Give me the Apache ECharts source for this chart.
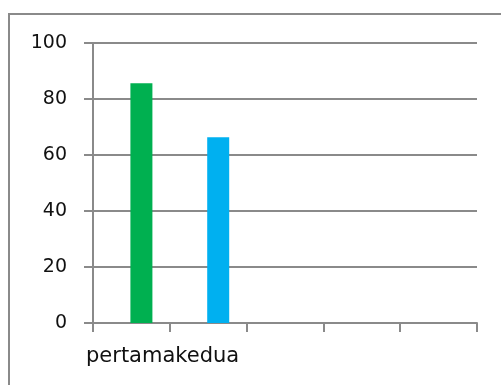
<!DOCTYPE html>
<html>
<head>
<meta charset="utf-8">
<script src="https://cdn.jsdelivr.net/npm/echarts@6/dist/echarts.min.js"></script>
<style>
  html, body { margin: 0; padding: 0; background: #fff; }
  #chart { width: 501px; height: 385px; }
</style>
</head>
<body>
<div id="chart"></div>
<script>
var categories = ['pertama', 'kedua', '', '', ''];
var values = [85.6, 66.3, '-', '-', '-'];
var barColors = ['#00b050', '#00b0f0'];
var yTicks = [0, 20, 40, 60, 80, 100];

var myChart = echarts.init(document.getElementById('chart'));

var barData = values.map(function (v, i) {
    if (v === '-') return '-';
    return { value: v, itemStyle: { color: barColors[i] } };
});

var option = {
    animation: false,
    grid: { left: 93, right: 24, top: 43, bottom: 62 },
    graphic: [
        {
            type: 'rect',
            shape: { x: 9, y: 14, width: 600, height: 500 },
            style: { fill: 'none', stroke: '#8a8a8a', lineWidth: 2 }
        },
        {
            type: 'text',
            x: 86,
            y: 367,
            style: {
                text: categories.slice(0, 2).join(''),
                font: '21px "DejaVu Sans"',
                fill: '#111',
                textVerticalAlign: 'bottom'
            }
        }
    ],
    xAxis: {
        type: 'category',
        data: categories,
        boundaryGap: true,
        axisLine: { lineStyle: { color: '#8a8a8a', width: 2 } },
        axisTick: { show: true, length: 9, interval: 0, lineStyle: { color: '#8a8a8a', width: 2 } },
        axisLabel: { show: false }
    },
    yAxis: {
        type: 'value',
        min: yTicks[0],
        max: yTicks[yTicks.length - 1],
        interval: 20,
        axisLine: { show: true, lineStyle: { color: '#8a8a8a', width: 2 } },
        axisTick: { show: true, length: 9, lineStyle: { color: '#8a8a8a', width: 2 } },
        splitLine: { lineStyle: { color: '#8a8a8a', width: 2 } },
        axisLabel: {
            margin: 26,
            color: '#111',
            fontSize: 19,
            fontFamily: 'DejaVu Sans',
            padding: [3, 0, 0, 0]
        }
    },
    series: [
        {
            type: 'bar',
            barWidth: 22,
            data: ['-', '-', '-', '-', '-']
        },
        {
            type: 'bar',
            barWidth: 22,
            barGap: '-9%',
            data: barData
        }
    ]
};

myChart.setOption(option);
</script>
</body>
</html>
